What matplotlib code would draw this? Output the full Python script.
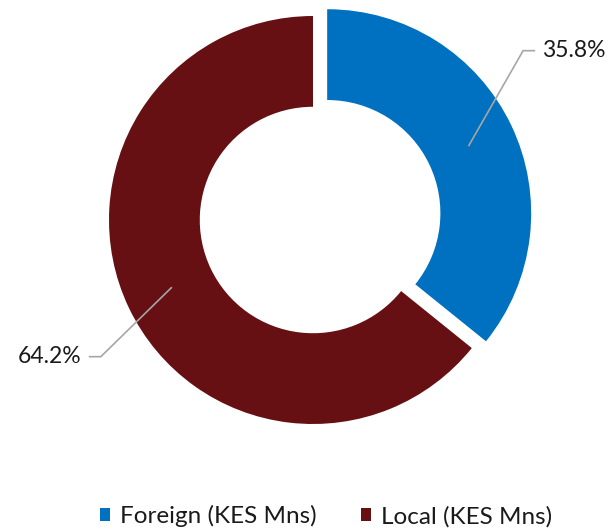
import numpy as np
import matplotlib
matplotlib.use("Agg")
import matplotlib.pyplot as plt

labels = ["Foreign (KES Mns)", "Local (KES Mns)"]
shares = [35.8, 64.2]
colors = ["#0070C0", "#661013"]

plt.rcParams['font.family'] = ['Lato', 'DejaVu Sans']

W, H = 613, 529
cx, cy, R = 313, 220, 204  # pie centre and radius in pixels

fig = plt.figure(figsize=(W / 100, H / 100), dpi=100)
ax = fig.add_axes([0, 0, 1, 1])

explode = [0.077, 0.0]
wedges, _ = ax.pie(shares, colors=colors, startangle=90, counterclock=False,
                   explode=explode, wedgeprops=dict(width=0.445, linewidth=0),
                   radius=1.0)
ax.set_xlim(-cx / R, (W - cx) / R)
ax.set_ylim(-(H - cy) / R, cy / R)
ax.set_aspect('auto')
ax.axis('off')

# leader lines + labels
label_pos = [(1.03, 0.83, 1), (-1.04, -0.67, -1)]
for w, ex, (lx, ly, side), v in zip(wedges, explode, label_pos, shares):
    mid = np.deg2rad((w.theta1 + w.theta2) / 2)
    r0 = 0.77 + ex
    x0, y0 = r0 * np.cos(mid), r0 * np.sin(mid)
    x2 = lx + side * 0.055
    ax.plot([x0, lx, x2], [y0, ly, ly], color="#A6A6A6", lw=1.2,
            solid_joinstyle='miter')
    ax.text(x2 + side * 0.04, ly, f"{v:.1f}%", fontsize=16.5,
            ha='left' if side > 0 else 'right', va='center', color="#1a1a1a")

fig.legend(wedges, labels, loc='center', bbox_to_anchor=(0.532, 0.024),
           ncol=2, frameon=False, fontsize=17.5, handlelength=0.42,
           handleheight=0.42, handletextpad=0.42, columnspacing=1.8,
           labelcolor="#1a1a1a")

fig.savefig("out.png", dpi=100)
